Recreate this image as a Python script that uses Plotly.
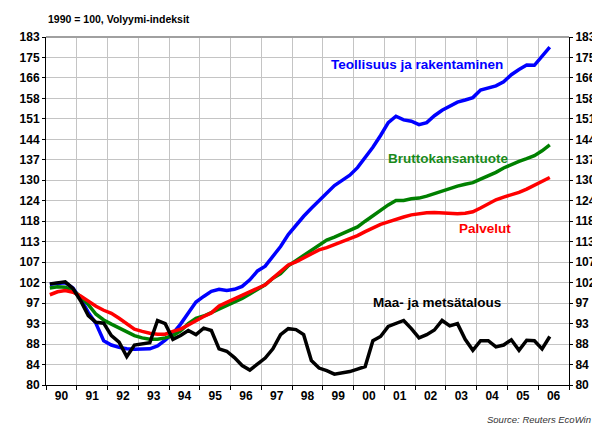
import numpy as np
import pandas as pd
import plotly.graph_objects as go

# ---------------- data (quarterly, 1990Q1 .. 2006Q2) ----------------
quarters = [f"{y}Q{q}" for y in range(1990, 2007) for q in range(1, 5)][:66]

teollisuus = [101.7, 102.0, 102.1, 100.8,
              98.2, 95.1, 92.6, 88.9,
              88.0, 87.5, 87.2, 87.1,
              87.1, 87.2, 87.8, 89.0,
              90.5, 92.5, 95.0, 97.5,
              98.8, 100.0, 100.5, 100.2,
              100.5, 101.2, 102.8, 105.0,
              106.2, 108.7, 111.3, 114.5,
              117.1, 119.6, 121.9, 124.2,
              126.3, 128.7, 130.3, 131.9,
              134.3, 137.5, 141.0, 145.0,
              149.5, 151.8, 150.5, 150.0,
              148.8, 149.5, 152.0, 154.0,
              155.4, 157.0, 157.8, 158.7,
              161.6, 162.5, 163.2, 164.8,
              167.6, 169.7, 171.5, 171.4,
              175.3, 179.0]

bkt = [100.8, 101.1, 101.0, 100.2,
       98.8, 96.9, 94.7, 93.4,
       92.5, 91.6, 90.7, 90.0,
       89.5, 89.2, 89.2, 89.5,
       90.0, 91.0, 92.6, 93.8,
       94.3, 95.1, 95.8, 96.6,
       97.4, 98.3, 99.4, 100.5,
       101.6, 103.2, 104.3, 106.3,
       107.6, 109.0, 110.5, 111.8,
       113.0, 113.8, 114.8, 115.8,
       116.6, 118.2, 119.8, 121.3,
       122.9, 124.2, 124.2, 124.7,
       124.9, 125.5, 126.3, 127.1,
       127.8, 128.5, 129.1, 129.6,
       130.7, 131.7, 132.8, 134.2,
       135.3, 136.3, 137.2, 138.2,
       139.8, 141.8]

palvelut = [99.2, 99.9, 100.2, 99.8,
            98.9, 97.6, 96.5, 95.6,
            94.9, 93.8, 92.6, 91.4,
            90.9, 90.5, 90.3, 90.3,
            90.9, 91.4, 92.3, 93.3,
            94.2, 95.0, 96.6, 97.4,
            98.2, 99.0, 99.8, 100.6,
            101.6, 103.2, 104.9, 106.5,
            107.3, 108.3, 109.3, 110.4,
            111.0, 111.7, 112.6, 113.4,
            114.2, 115.3, 116.4, 117.3,
            118.0, 118.8, 119.4, 120.0,
            120.4, 120.6, 120.7, 120.6,
            120.5, 120.3, 120.5, 120.9,
            122.0, 123.3, 124.4, 125.2,
            125.9, 126.6, 127.6, 128.7,
            130.1, 131.2]

maa_metsa = [101.8, 102.0, 102.3, 100.7,
             97.8, 94.4, 92.9, 92.7,
             90.0, 88.6, 85.6, 88.0,
             88.3, 88.5, 93.3, 92.6,
             89.2, 90.0, 91.1, 90.2,
             91.6, 91.1, 87.2, 86.7,
             85.4, 83.8, 82.9, 84.1,
             85.3, 87.2, 90.2, 91.5,
             91.3, 90.2, 84.8, 83.3,
             82.8, 82.1, 82.3, 82.6,
             83.1, 83.6, 88.9, 89.8,
             92.0, 92.7, 93.3, 91.5,
             89.5, 90.2, 91.2, 93.3,
             92.1, 92.6, 89.2, 86.9,
             88.9, 88.9, 87.6, 88.0,
             89.1, 86.9, 89.0, 88.9,
             87.2, 89.8]

years = list(range(1990, 2007))
year_labels = ["90", "91", "92", "93", "94", "95", "96", "97", "98", "99",
               "00", "01", "02", "03", "04", "05", "06"]
y_tick_labels = ["80", "84", "88", "93", "97", "102", "107", "113", "118", "124",
                 "130", "137", "144", "151", "158", "166", "175", "183"]

series_names = ["Teollisuus ja rakentaminen", "Bruttokansantuote", "Palvelut",
                "Maa- ja metsätalous"]

# ---------------- derived positions ----------------
x = [int(s[:4]) + (int(s[-1]) - 0.5) / 4 for s in quarters]
y_tickvals = [80 * 1.05 ** k for k in range(len(y_tick_labels))]
y_range = [np.log10(y_tickvals[0]), np.log10(y_tickvals[-1])]
x_range = [years[0], years[-1] + 1]

FONT = "Liberation Sans, Arial, sans-serif"
colors = ["#0000ff", "#008000", "#ff0000", "#000000"]
data = [teollisuus, bkt, palvelut, maa_metsa]

fig = go.Figure()
for name, vals, col in zip(series_names, data, colors):
    fig.add_trace(go.Scatter(x=x, y=vals, mode="lines", name=name,
                             line=dict(color=col, width=3.5),
                             showlegend=False))
# invisible trace to activate right axis
fig.add_trace(go.Scatter(x=x, y=teollisuus, yaxis="y2", mode="lines",
                         line=dict(width=0), opacity=0, showlegend=False,
                         hoverinfo="skip"))

grid = "#c4c4c4"
tickfont = dict(family=FONT, size=12, color="black", weight="bold")

fig.update_layout(
    width=600, height=428,
    margin=dict(l=32, r=27, t=29, b=51),
    paper_bgcolor="white", plot_bgcolor="white",
    xaxis=dict(range=x_range, tickvals=[y + 0.5 for y in years], ticktext=year_labels,
               ticks="", showgrid=False, zeroline=False, showline=True,
               linecolor="black", linewidth=1, tickfont=tickfont,
               minor=dict(tickvals=years + [years[-1] + 1], ticks="outside", ticklen=4,
                          tickcolor="black", showgrid=True, gridcolor=grid,
                          gridwidth=1)),
    yaxis=dict(type="log", range=y_range, tickvals=y_tickvals, ticktext=y_tick_labels,
               ticks="outside", ticklen=3, tickcolor="black", showgrid=True,
               gridcolor=grid, gridwidth=1, zeroline=False, showline=True,
               linecolor="black", linewidth=1, tickfont=tickfont),
    yaxis2=dict(type="log", range=y_range, tickvals=y_tickvals, ticktext=y_tick_labels,
                overlaying="y", side="right", ticks="outside", ticklen=3,
                tickcolor="black", showgrid=False, zeroline=False, showline=True,
                linecolor="black", linewidth=1, tickfont=tickfont),
)

# darker top frame line
fig.add_shape(type="line", xref="paper", yref="paper", x0=0, x1=1, y0=1, y1=1,
              line=dict(color="#a0a0a0", width=2))

label_pos = [(0.709, 0.920), (0.768, 0.652), (0.840, 0.451), (0.747, 0.238)]
label_cols = ["#0000ff", "#1a8a1a", "#ff0000", "#000000"]
for name, (px, py), col in zip(series_names, label_pos, label_cols):
    fig.add_annotation(text=name, xref="paper", yref="paper", x=px, y=py,
                       xanchor="center", yanchor="middle", showarrow=False,
                       font=dict(family=FONT, size=13.5, color=col, weight="bold"))

fig.add_annotation(text="1990 = 100, Volyymi-indeksit", xref="paper", yref="paper",
                   x=0.0, y=1.052, xanchor="left", yanchor="middle", showarrow=False,
                   font=dict(family=FONT, size=10.5, color="black", weight="bold"))
fig.add_annotation(text="Source: Reuters EcoWin", xref="paper", yref="paper",
                   x=1.045, y=-0.10, xanchor="right", yanchor="middle", showarrow=False,
                   font=dict(family=FONT, size=9.5, color="#333333", style="italic"))

fig.write_html("out.html")
